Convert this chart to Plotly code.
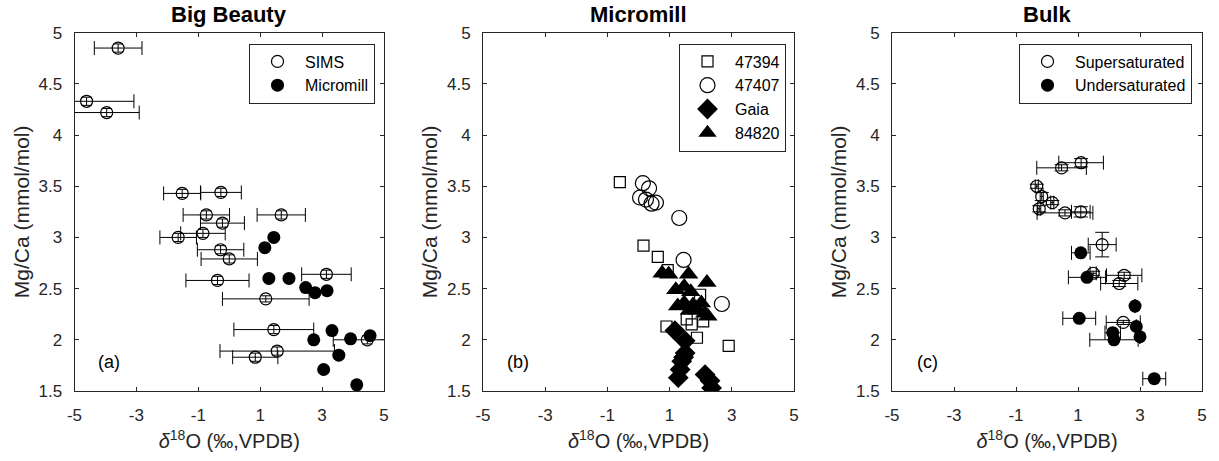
import plotly.graph_objects as go

# ---------------- data ----------------
# Panel (a) Big Beauty
sims_x = [-3.59, -4.61, -3.96, -1.52, -0.27, -0.74, 1.68, -0.22, -0.85, -1.65, -0.28, 0.00, 3.14, -0.38, 1.18, 1.44, 4.46, 1.55, 0.84]
sims_y = [4.85, 4.33, 4.22, 3.43, 3.44, 3.22, 3.22, 3.14, 3.04, 3.00, 2.88, 2.79, 2.64, 2.58, 2.40, 2.10, 2.00, 1.89, 1.83]
sims_xerr = [0.77, 1.53, 1.05, 0.60, 0.66, 0.75, 0.78, 0.71, 0.72, 0.59, 0.75, 0.91, 0.80, 1.02, 1.40, 1.29, 1.10, 1.85, 0.73]
sims_yerr = [0.04, 0.04, 0.04, 0.04, 0.04, 0.04, 0.04, 0.04, 0.04, 0.04, 0.04, 0.04, 0.04, 0.04, 0.03, 0.04, 0.04, 0.04, 0.04]

mm_x = [1.44, 1.15, 1.28, 1.93, 2.47, 2.77, 3.16, 3.32, 2.73, 3.92, 4.55, 3.54, 3.05, 4.12]
mm_y = [3.00, 2.90, 2.60, 2.60, 2.51, 2.46, 2.48, 2.09, 2.00, 2.01, 2.04, 1.85, 1.71, 1.56]

# Panel (b) Micromill
s47394_x = [-0.60, 0.16, 0.62, 0.94, 1.98, 1.55, 1.71, 2.08, 0.90, 1.88, 2.90]
s47394_y = [3.54, 2.92, 2.81, 2.68, 2.44, 2.20, 2.15, 2.18, 2.13, 2.02, 1.94]

s47407_x = [0.14, 0.34, 0.05, 0.24, 0.42, 0.56, 1.31, 1.45, 2.68]
s47407_y = [3.53, 3.48, 3.39, 3.37, 3.33, 3.34, 3.19, 2.78, 2.35]

gaia_x = [1.17, 1.50, 1.50, 1.45, 1.39, 1.34, 1.28, 2.14, 2.30, 2.35]
gaia_y = [2.09, 1.99, 1.87, 1.83, 1.79, 1.71, 1.63, 1.66, 1.60, 1.53]

s84820_x = [0.76, 0.97, 1.61, 2.20, 1.20, 1.47, 1.68, 1.47, 1.26, 1.75, 2.02, 2.13, 1.91, 1.64, 2.23]
s84820_y = [2.65, 2.64, 2.64, 2.56, 2.49, 2.52, 2.47, 2.36, 2.33, 2.34, 2.36, 2.26, 2.29, 2.29, 2.23]

# Panel (c) Bulk
sup_x = [1.10, 0.47, -0.33, -0.17, 0.17, -0.25, 0.58, 1.09, 1.78, 1.49, 2.49, 2.33, 2.46]
sup_y = [3.73, 3.68, 3.50, 3.40, 3.34, 3.28, 3.24, 3.25, 2.93, 2.65, 2.63, 2.55, 2.17]
sup_xerr = [0.72, 0.80, 0.05, 0.05, 0.05, 0.05, 0.90, 0.30, 0.45, 0.10, 0.57, 0.60, 0.55]
sup_yerr = [0.04, 0.03, 0.02, 0.04, 0.02, 0.03, 0.03, 0.05, 0.12, 0.02, 0.03, 0.03, 0.02]

und_x = [1.09, 1.29, 2.84, 1.04, 2.88, 2.12, 2.16, 3.00, 3.46]
und_y = [2.85, 2.61, 2.33, 2.21, 2.13, 2.07, 2.00, 2.03, 1.62]
und_xerr = [0.30, 0.60, 0.00, 0.53, 0.00, 0.25, 0.78, 0.00, 0.37]

x_ticks = [-5, -3, -1, 1, 3, 5]
x_ticktext = ["-5", "-3", "-1", "1", "3", "5"]
y_ticks = [1.5, 2, 2.5, 3, 3.5, 4, 4.5, 5]
y_ticktext = ["1.5", "2", "2.5", "3", "3.5", "4", "4.5", "5"]
titles = ["Big Beauty", "Micromill", "Bulk"]
letters = ["(a)", "(b)", "(c)"]

# ---------------- figure ----------------
FONT = "Liberation Sans, Arial, Helvetica, sans-serif"
AX = "#262626"
W, H = 1219, 461
domains = [(74.5 / W, 384 / W), (483 / W, 794 / W), (892 / W, 1202 / W)]
ydom = (1 - 391 / H, 1 - 32.7 / H)

fig = go.Figure()

def ebar(arr, w=7):
    return dict(type="data", array=arr, visible=True, color="black", thickness=1, width=w)

# (a)
fig.add_trace(go.Scatter(
    x=sims_x, y=sims_y, mode="markers", name="SIMS",
    error_x=ebar(sims_xerr), error_y=ebar(sims_yerr, 5),
    marker=dict(symbol="circle-open", size=12, color="black", line=dict(width=1.2)),
    xaxis="x", yaxis="y", legend="legend"))
fig.add_trace(go.Scatter(
    x=mm_x, y=mm_y, mode="markers", name="Micromill",
    marker=dict(symbol="circle", size=13, color="black"),
    xaxis="x", yaxis="y", legend="legend"))

# (b)
fig.add_trace(go.Scatter(
    x=s47394_x, y=s47394_y, mode="markers", name="47394",
    marker=dict(symbol="square-open", size=11, color="black", line=dict(width=1.2)),
    xaxis="x2", yaxis="y2", legend="legend2"))
fig.add_trace(go.Scatter(
    x=s47407_x, y=s47407_y, mode="markers", name="47407",
    marker=dict(symbol="circle-open", size=15, color="black", line=dict(width=1.2)),
    xaxis="x2", yaxis="y2", legend="legend2"))
fig.add_trace(go.Scatter(
    x=gaia_x, y=gaia_y, mode="markers", name="Gaia",
    marker=dict(symbol="diamond", size=16, color="black"),
    xaxis="x2", yaxis="y2", legend="legend2"))
fig.add_trace(go.Scatter(
    x=s84820_x, y=s84820_y, mode="markers", name="84820",
    marker=dict(symbol="triangle-up", size=17, color="black"),
    xaxis="x2", yaxis="y2", legend="legend2"))

# (c)
fig.add_trace(go.Scatter(
    x=sup_x, y=sup_y, mode="markers", name="Supersaturated",
    error_x=ebar(sup_xerr), error_y=ebar(sup_yerr),
    marker=dict(symbol="circle-open", size=12, color="black", line=dict(width=1.2)),
    xaxis="x3", yaxis="y3", legend="legend3"))
fig.add_trace(go.Scatter(
    x=und_x, y=und_y, mode="markers", name="Undersaturated",
    error_x=ebar(und_xerr),
    marker=dict(symbol="circle", size=13, color="black"),
    xaxis="x3", yaxis="y3", legend="legend3"))

xlabel = "<i>δ</i><sup>18</sup>O (‰,VPDB)"
ylabel = "Mg/Ca (mmol/mol)"

layout = dict(
    template="none",
    width=W, height=H, autosize=False,
    margin=dict(l=0, r=0, t=0, b=0, pad=0, autoexpand=False),
    paper_bgcolor="white", plot_bgcolor="white",
    font=dict(family=FONT, size=17, color=AX),
    showlegend=True,
)

for i in range(3):
    sfx = "" if i == 0 else str(i + 1)
    layout["xaxis" + sfx] = dict(
        domain=list(domains[i]), range=[-5, 5], anchor="y" + sfx, automargin=False,
        tickvals=x_ticks, ticktext=x_ticktext, ticks="inside", ticklen=4, tickcolor=AX,
        showline=True, linecolor=AX, linewidth=1, mirror="ticks",
        showgrid=False, zeroline=False, ticklabelstandoff=9,
        tickfont=dict(family=FONT, size=17, color=AX),
        title=dict(text=xlabel, font=dict(family=FONT, size=20, color=AX), standoff=9),
    )
    layout["yaxis" + sfx] = dict(
        domain=list(ydom), range=[1.5, 5], anchor="x" + sfx, automargin=False,
        tickvals=y_ticks, ticktext=y_ticktext, ticks="inside", ticklen=4, tickcolor=AX,
        showline=True, linecolor=AX, linewidth=1, mirror="ticks",
        showgrid=False, zeroline=False, ticklabelstandoff=8,
        tickfont=dict(family=FONT, size=17, color=AX),
        title=dict(text=ylabel, font=dict(family=FONT, size=21, color=AX), standoff=3),
    )

legend_right = [375, 786, 1192]
for i, key in enumerate(["legend", "legend2", "legend3"]):
    layout[key] = dict(
        x=legend_right[i] / W, xanchor="right", y=1 - 43.5 / H, yanchor="top",
        bgcolor="white", bordercolor=AX, borderwidth=1,
        font=dict(family=FONT, size=16, color="black"),
        tracegroupgap=0, itemwidth=45,
    )

annotations = []
for i in range(3):
    sfx = "" if i == 0 else str(i + 1)
    annotations.append(dict(
        text="<b>%s</b>" % titles[i], xref="x%s domain" % sfx, x=0.5,
        yref="paper", y=1 - 15 / H, xanchor="center", yanchor="middle",
        showarrow=False, font=dict(family=FONT, size=22, color="black")))
    annotations.append(dict(
        text=letters[i], xref="x" + sfx, yref="y" + sfx, x=-3.87, y=1.78,
        xanchor="center", yanchor="middle", showarrow=False,
        font=dict(family=FONT, size=18, color="black")))
layout["annotations"] = annotations

fig.update_layout(**layout)
fig.write_html("out.html")
